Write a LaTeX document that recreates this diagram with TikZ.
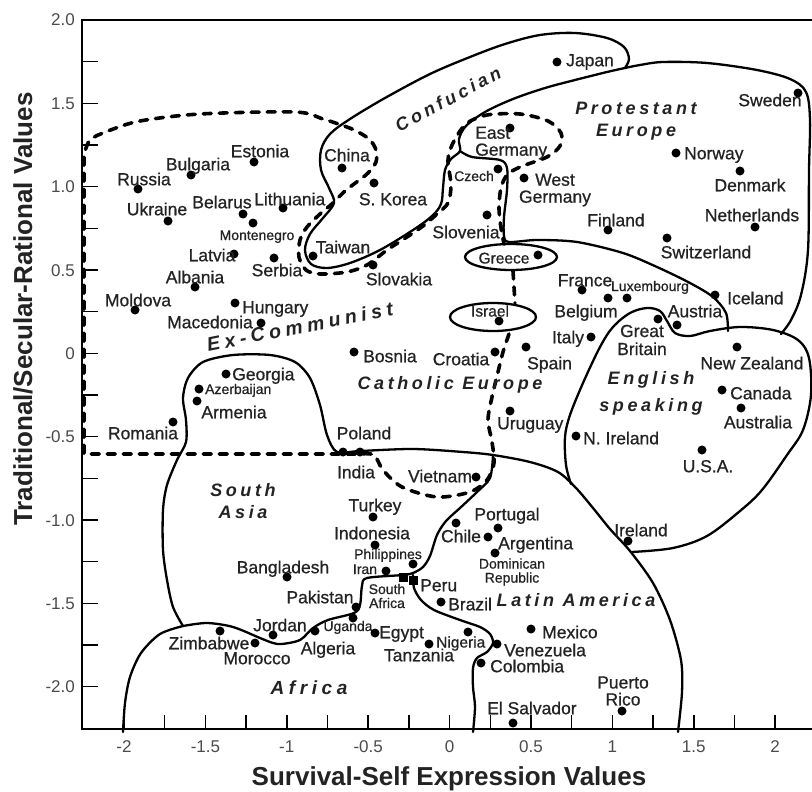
\documentclass[tikz,border=0pt]{standalone}
\usepackage{fontspec}
\setmainfont{Liberation Sans}
\newfontfamily\labfont[FakeBold=0.7]{Liberation Sans}
\newfontfamily\regfont[LetterSpace=20]{Liberation Sans}
\newfontfamily\regwide[LetterSpace=24]{Liberation Sans}
\definecolor{txt}{RGB}{35,35,35}
\definecolor{tkc}{RGB}{75,75,75}
\begin{document}
\begin{tikzpicture}[x=1pt,y=-1pt,
  cdot/.style={circle,fill=black,inner sep=0pt,minimum size=9pt},
  sq/.style={rectangle,fill=black,inner sep=0pt,minimum size=9pt},
  lab/.style={inner sep=0pt,text=txt,font=\labfont\fontsize{17.5}{17}\selectfont,text height=12.5pt,text depth=0pt},
  mlab/.style={lab,font=\labfont\fontsize{15.5}{16}\selectfont,text height=11pt},
  slab/.style={lab,font=\labfont\fontsize{14}{14}\selectfont,text height=10pt},
  lab2/.style={inner sep=0pt,text=txt,font=\labfont\fontsize{17.5}{17}\selectfont,align=center},
  slab2/.style={inner sep=0pt,text=txt,font=\labfont\fontsize{14}{14}\selectfont,align=center},
  reg/.style={inner sep=0pt,text=txt,font=\regfont\bfseries\itshape\fontsize{18}{22}\selectfont,text height=13pt,text depth=0pt},
  reg2/.style={inner sep=0pt,text=txt,font=\regfont\bfseries\itshape\fontsize{18}{22}\selectfont,align=center},
  bnd/.style={line width=2.3pt,line join=round,line cap=round},
  dsh/.style={line width=3.6pt,dash pattern=on 8pt off 8pt,line cap=round,line join=round},
  frm/.style={line width=2.6pt},
  tk/.style={line width=1.5pt},
  tl/.style={inner sep=0pt,text=tkc,font=\fontsize{17}{17}\selectfont,text height=12pt,text depth=0pt},
  axt/.style={inner sep=0pt,text=txt,font=\bfseries\fontsize{26}{26}\selectfont}]
\useasboundingbox (0,0) rectangle (812,792);
\clip (0,0) rectangle (812,792);
\fill[white] (0,0) rectangle (812,792);

% frame and ticks
\draw[frm] (830,20) -- (82,20) -- (82,729) -- (830,729);
\foreach \k in {1,...,16} \draw[tk] (82,{20+41.667*\k}) -- ++(16,0);
\foreach \i in {0,...,16} \draw[tk] ({124+40.7*\i},729) -- ++(0,-14);
\foreach \v/\l [count=\n] in {2/2.0,1.5/1.5,1/1.0,0.5/0.5,0/0,-0.5/-0.5,-1/-1.0,-1.5/-1.5,-2/-2.0}
  \node[tl,anchor=east] (yt\n) at (75,{20+(2-\v)*166.67}) {\l};
\foreach \v [count=\n] in {-2,-1.5,-1,-0.5,0,0.5,1,1.5,2}
  \node[tl] (xt\n) at ({124+(\v+2)*162.8},746) {\v};
\node[axt] (xtitle) at (449,779) {Survival-Self Expression Values};
\node[axt,rotate=90] (ytitle) at (23,309) {Traditional/Secular-Rational Values};

% solid zone boundaries
\draw[bnd] plot[smooth,tension=0.55] coordinates {(625,68) (629,59) (624,47) (607,38) (575,33) (540,35) (505,44) (470,57) (430,74) (385,98) (350,119) (330,134) (321,150) (321,170) (329,188) (334,203) (323,218) (310,234) (305,250) (311,264) (327,268) (350,263) (380,250) (413,230) (432,216) (441,204) (443,188) (445,170) (451,159) (460,151) (459,139) (466,126) (485,112) (513,99) (545,88) (575,80) (607,72) (625,68)};
\draw[bnd] plot[smooth,tension=0.55] coordinates {(625,68) (640,65) (663,62) (707,63) (757,70) (790,79) (806,92) (810,120) (809,170) (808,250) (801,295) (791,320) (781,334)};
\draw[bnd] plot[smooth,tension=0.5] coordinates {(460,151) (472,157) (500,160) (507,168) (507,190) (504,217) (504,236) (509,242) (537,240) (577,242) (623,253) (657,267) (690,283) (713,297) (726,313) (728,331)};
\draw[bnd] plot[smooth,tension=0.55] coordinates {(571,484) (566,465) (565,437) (570,415) (583,383) (600,347) (613,327) (630,313) (647,308) (660,311) (667,321) (675,333) (690,336) (710,331) (740,327) (773,330) (798,340) (809,358) (811,395) (803,430) (787,455) (762,490) (740,511) (707,536) (673,548) (632,552)};
\draw[bnd] plot[smooth,tension=0.5] coordinates {(183,626) (173,607) (167,580) (163,550) (163,510) (167,485) (177,460) (186,442) (186,420) (183,398) (188,378) (203,362) (233,355) (270,355) (295,362) (310,378) (320,405) (327,435) (337,452) (360,451) (413,449) (463,452) (493,455) (530,462) (558,472) (576,488) (593,508) (610,529) (630,551) (653,583) (670,620) (681,660) (682,692) (678,732)};
\draw[bnd] plot[smooth,tension=0.5] coordinates {(493,455) (490,478) (477,492) (460,508) (446,521) (437,535) (430,556) (423,567) (413,573) (403,575) (367,578) (362,586) (360,605) (354,613) (328,620) (313,628) (300,640) (282,644) (273,643) (260,638) (233,627) (207,623) (183,626)};
\draw[bnd] plot[smooth,tension=0.5] coordinates {(413,575) (414,588) (421,600) (434,610) (460,620) (480,627) (490,634) (493,643) (487,652) (477,658) (473,668) (473,687) (475,707) (473,732)};
\draw[bnd] plot[smooth,tension=0.5] coordinates {(183,626) (160,634) (141,653) (130,677) (125,703) (123,732)};
\draw[bnd] (511,257) ellipse [x radius=46pt,y radius=13pt];
\draw[bnd] (493,317) ellipse [x radius=43pt,y radius=14pt];

% dashed Ex-Communist boundary
\draw[dsh] plot[smooth,tension=0.5] coordinates {(509,334) (503,352) (498,372) (492,397) (488,420) (492,442) (494,463) (487,480) (470,492) (437,497) (402,487) (383,470) (374,455) (360,454)} -- (84,454) -- (84,160) -- plot[smooth,tension=0.5] coordinates {(84,155) (90,140) (108,131) (140,121) (200,114) (295,112) (323,119) (352,129) (369,139) (376,150) (376,162) (368,173) (358,181) (345,191) (333,203) (320,214) (307,227) (300,240) (299,257) (306,270) (320,274) (347,272) (367,265) (387,250) (407,237) (423,226) (437,214) (448,203) (451,185) (448,160) (453,143) (466,124) (487,115) (520,114) (548,121) (561,133) (560,146) (547,157) (520,167) (507,175) (501,188) (499,208) (501,228) (504,244)};
\draw[dsh] (513,271) -- (515,303);

% region names
\node[reg,rotate=28] (conf) at (448,99) {Confucian};
\node[reg2] (prot) at (636,121) {Protestant\\Europe};
\node[reg,rotate=11,font=\regwide\bfseries\itshape\fontsize{19.5}{22}\selectfont] (exc) at (300,327) {Ex-Communist};
\node[reg] (cath) at (450,383) {Catholic Europe};
\node[reg2] (eng) at (651,393) {English\\[5pt]speaking};
\node[reg2] (sas) at (243,501) {South\\Asia};
\node[reg] (lat) at (576,600) {Latin America};
\node[reg,font=\regwide\bfseries\itshape\fontsize{19}{22}\selectfont] (afr) at (309,688) {Africa};

% societies
\node[cdot] (rus) at (138,189) {}; \node[lab] (rus-l) at (144,179) {Russia};
\node[cdot] (bgr) at (191,175) {}; \node[lab] (bgr-l) at (198,164) {Bulgaria};
\node[cdot] (est) at (254,162) {}; \node[lab] (est-l) at (260,151) {Estonia};
\node[cdot] (ukr) at (168,221) {}; \node[lab] (ukr-l) at (157,209) {Ukraine};
\node[cdot] (blr) at (243,214) {}; \node[lab] (blr-l) at (222,202) {Belarus};
\node[cdot] (mne) at (253,223) {}; \node[slab] (mne-l) at (257,235) {Montenegro};
\node[cdot] (ltu) at (283,208) {}; \node[lab,anchor=west] (ltu-l) at (254,199) {Lithuania};
\node[cdot] (lva) at (234,254) {}; \node[lab] (lva-l) at (212,255) {Latvia};
\node[cdot] (srb) at (274,258) {}; \node[lab] (srb-l) at (277,270) {Serbia};
\node[cdot] (alb) at (195,287) {}; \node[lab] (alb-l) at (195,277) {Albania};
\node[cdot] (mda) at (135,310) {}; \node[lab] (mda-l) at (138,300) {Moldova};
\node[cdot] (hun) at (235,303) {}; \node[lab,anchor=west] (hun-l) at (242,307) {Hungary};
\node[cdot] (mkd) at (261,323) {}; \node[lab] (mkd-l) at (210,322) {Macedonia};
\node[cdot] (geo) at (226,374) {}; \node[lab,anchor=west] (geo-l) at (232,374) {Georgia};
\node[cdot] (aze) at (199,389) {}; \node[slab,anchor=west] (aze-l) at (205,389) {Azerbaijan};
\node[cdot] (arm) at (197,401) {}; \node[lab] (arm-l) at (234,412) {Armenia};
\node[cdot] (rou) at (173,422) {}; \node[lab] (rou-l) at (143,433) {Romania};
\node[cdot] (chn) at (342,168) {}; \node[lab] (chn-l) at (347,155) {China};
\node[cdot] (kor) at (374,183) {}; \node[lab] (kor-l) at (393,199) {S. Korea};
\node[cdot] (twn) at (313,256) {}; \node[lab] (twn-l) at (343,247) {Taiwan};
\node[cdot] (svk) at (373,265) {}; \node[lab] (svk-l) at (399,279) {Slovakia};
\node[cdot] (bih) at (354,352) {}; \node[lab,anchor=west] (bih-l) at (363,356) {Bosnia};
\node[cdot] (jpn) at (557,62) {}; \node[lab,anchor=west] (jpn-l) at (566,60) {Japan};
\node[cdot] (gde) at (510,128) {}; \node[lab2,align=left,anchor=west] (gde-l) at (475,143) {East\\Germany};
\node[cdot] (cze) at (498,169) {}; \node[slab] (cze-l) at (474,176) {Czech};
\node[cdot] (wde) at (524,178) {}; \node[lab2] (wde-l) at (555,190) {West\\Germany};
\node[cdot] (svn) at (487,215) {}; \node[lab] (svn-l) at (466,232) {Slovenia};
\node[cdot] (grc) at (538,255) {}; \node[mlab] (grc-l) at (504,258) {Greece};
\node[cdot] (isr) at (499,321) {}; \node[mlab] (isr-l) at (490,311) {Israel};
\node[cdot] (fra) at (582,290) {}; \node[lab] (fra-l) at (585,280) {France};
\node[cdot] (bel) at (608,298) {}; \node[lab] (bel-l) at (586,311) {Belgium};
\node[cdot] (lux) at (627,298) {}; \node[slab] (lux-l) at (650,286) {Luxembourg};
\node[cdot] (isl) at (715,295) {}; \node[lab,anchor=west] (isl-l) at (727,298) {Iceland};
\node[cdot] (aut) at (677,325) {}; \node[lab] (aut-l) at (695,311) {Austria};
\node[cdot] (gbr) at (658,319) {}; \node[lab2] (gbr-l) at (642,340) {Great\\[1pt]Britain};
\node[cdot] (ita) at (591,337) {}; \node[lab] (ita-l) at (568,337) {Italy};
\node[cdot] (fin) at (608,230) {}; \node[lab] (fin-l) at (616,220) {Finland};
\node[cdot] (che) at (667,238) {}; \node[lab] (che-l) at (706,252) {Switzerland};
\node[cdot] (nor) at (676,153) {}; \node[lab,anchor=west] (nor-l) at (684,153) {Norway};
\node[cdot] (dnk) at (740,171) {}; \node[lab] (dnk-l) at (750,185) {Denmark};
\node[cdot] (nld) at (755,227) {}; \node[lab] (nld-l) at (752,215) {Netherlands};
\node[cdot] (swe) at (798,93) {}; \node[lab] (swe-l) at (770,100) {Sweden};
\node[cdot] (esp) at (526,347) {}; \node[lab,anchor=west] (esp-l) at (527,363) {Spain};
\node[cdot] (hrv) at (495,352) {}; \node[lab] (hrv-l) at (461,359) {Croatia};
\node[cdot] (ury) at (510,411) {}; \node[lab,anchor=west] (ury-l) at (497,423) {Uruguay};
\node[cdot] (nzl) at (737,347) {}; \node[lab] (nzl-l) at (752,363) {New Zealand};
\node[cdot] (can) at (722,390) {}; \node[lab,anchor=west] (can-l) at (730,393) {Canada};
\node[cdot] (aus) at (741,408) {}; \node[lab] (aus-l) at (758,422) {Australia};
\node[cdot] (nir) at (576,436) {}; \node[lab,anchor=west] (nir-l) at (583,438) {N. Ireland};
\node[cdot] (usa) at (702,450) {}; \node[lab] (usa-l) at (708,466) {U.S.A.};
\node[cdot] (pol) at (360,452) {}; \node[lab] (pol-l) at (364,433) {Poland};
\node[cdot] (ind) at (343,452) {}; \node[lab] (ind-l) at (356,472) {India};
\node[cdot] (vnm) at (476,477) {}; \node[lab] (vnm-l) at (440,476) {Vietnam};
\node[cdot] (tur) at (373,517) {}; \node[lab] (tur-l) at (375,505) {Turkey};
\node[cdot] (idn) at (375,545) {}; \node[lab] (idn-l) at (372,533) {Indonesia};
\node[cdot] (phl) at (413,564) {}; \node[slab] (phl-l) at (388,554) {Philippines};
\node[cdot] (irn) at (386,571) {}; \node[slab] (irn-l) at (365,569) {Iran};
\node[sq] (zaf) at (403,577) {}; \node[slab2] (zaf-l) at (387,596) {South\\Africa};
\node[sq] (per) at (413,580) {}; \node[lab,anchor=west] (per-l) at (420,585) {Peru};
\node[cdot] (bgd) at (287,577) {}; \node[lab] (bgd-l) at (283,567) {Bangladesh};
\node[cdot] (pak) at (356,607) {}; \node[lab] (pak-l) at (320,597) {Pakistan};
\node[cdot] (uga) at (353,618) {}; \node[slab] (uga-l) at (348,626) {Uganda};
\node[cdot] (jor) at (273,635) {}; \node[lab] (jor-l) at (280,625) {Jordan};
\node[cdot] (dza) at (315,631) {}; \node[lab] (dza-l) at (328,648) {Algeria};
\node[cdot] (zwe) at (220,631) {}; \node[lab] (zwe-l) at (209,643) {Zimbabwe};
\node[cdot] (mar) at (255,643) {}; \node[lab] (mar-l) at (257,658) {Morocco};
\node[cdot] (egy) at (375,633) {}; \node[lab,anchor=west] (egy-l) at (379,632) {Egypt};
\node[cdot] (nga) at (429,644) {}; \node[mlab,anchor=west] (nga-l) at (436,642) {Nigeria};
\node[cdot] (tza) at (468,632) {}; \node[lab] (tza-l) at (419,655) {Tanzania};
\node[cdot] (bra) at (441,602) {}; \node[lab,anchor=west] (bra-l) at (448,604) {Brazil};
\node[cdot] (chl) at (456,523) {}; \node[lab] (chl-l) at (461,536) {Chile};
\node[cdot] (prt) at (498,528) {}; \node[lab] (prt-l) at (507,514) {Portugal};
\node[cdot] (arg) at (488,537) {}; \node[lab,anchor=west] (arg-l) at (498,543) {Argentina};
\node[cdot] (dom) at (495,553) {}; \node[slab2] (dom-l) at (512,572) {Dominican\\Republic};
\node[cdot] (mex) at (531,629) {}; \node[lab,anchor=west] (mex-l) at (542,632) {Mexico};
\node[cdot] (ven) at (497,644) {}; \node[lab,anchor=west] (ven-l) at (504,650) {Venezuela};
\node[cdot] (col) at (481,663) {}; \node[lab,anchor=west] (col-l) at (490,666) {Colombia};
\node[cdot] (slv) at (513,723) {}; \node[lab,anchor=west] (slv-l) at (487,708) {El Salvador};
\node[cdot] (pri) at (622,711) {}; \node[lab2] (pri-l) at (623,691) {Puerto\\Rico};
\node[cdot] (irl) at (628,541) {}; \node[lab] (irl-l) at (641,530) {Ireland};
\end{tikzpicture}
\end{document}
